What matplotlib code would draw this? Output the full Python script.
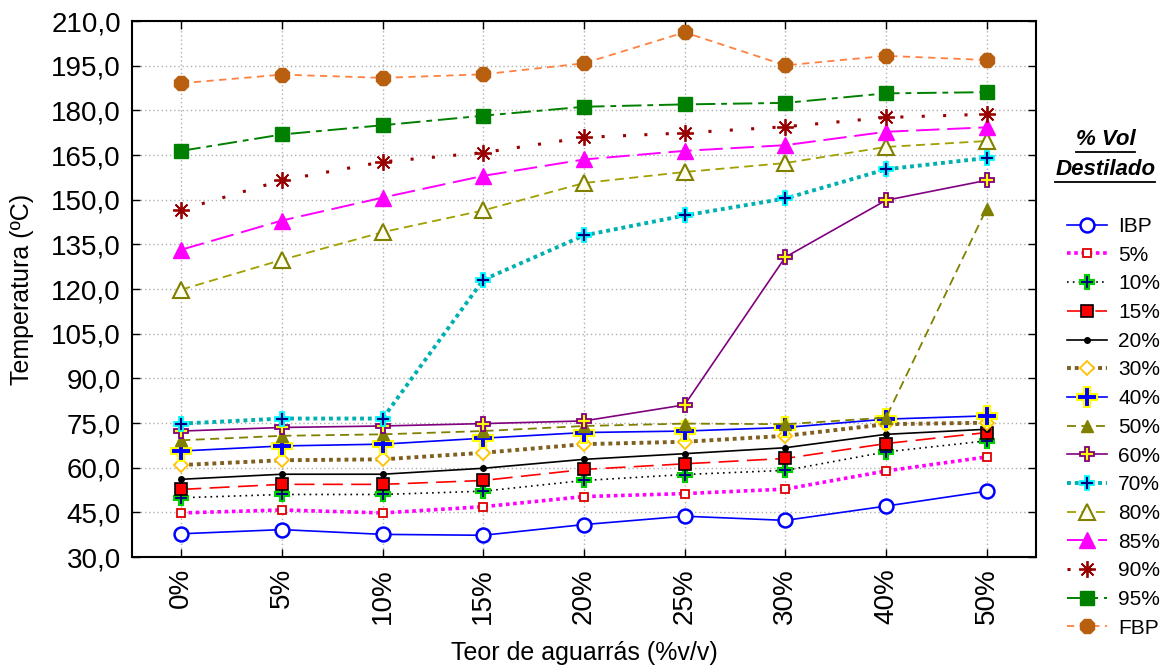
import numpy as np
import matplotlib
matplotlib.use("Agg")
import matplotlib.pyplot as plt
from matplotlib.lines import Line2D
from matplotlib.ticker import FuncFormatter

plt.rcParams['font.family'] = ['Liberation Sans', 'DejaVu Sans']

# turpentine content on the x axis (categorical)
teor = ["0%", "5%", "10%", "15%", "20%", "25%", "30%", "40%", "50%"]

# distillation temperatures (ºC) for each recovered volume
ibp = [37.8, 39.2, 37.6, 37.3, 40.9, 43.7, 42.3, 47.1, 52.1]
v05 = [44.8, 45.8, 44.8, 46.9, 50.3, 51.3, 52.8, 58.9, 63.6]
v10 = [49.9, 51.0, 51.0, 52.1, 55.7, 57.7, 59.1, 65.3, 69.0]
v15 = [52.7, 54.4, 54.4, 55.7, 59.4, 61.3, 63.1, 68.1, 71.8]
v20 = [56.1, 57.8, 57.8, 59.8, 62.8, 64.7, 66.7, 71.2, 72.9]
v30 = [60.9, 62.5, 62.8, 65.0, 67.9, 68.7, 70.7, 74.6, 75.1]
v40 = [65.6, 67.3, 67.9, 69.9, 71.8, 72.3, 73.5, 76.3, 77.4]
v50 = [69.2, 70.7, 71.2, 72.3, 74.0, 74.8, 74.6, 76.8, 147.0]
v60 = [72.3, 73.5, 74.0, 74.8, 75.7, 81.1, 130.7, 149.8, 156.5]
v70 = [74.8, 76.5, 76.5, 123.1, 138.0, 144.7, 150.4, 160.2, 164.0]
v80 = [119.8, 129.8, 139.1, 146.4, 155.6, 159.3, 162.3, 167.7, 169.7]
v85 = [133.2, 143.0, 150.7, 158.0, 163.5, 166.4, 168.3, 172.8, 174.3]
v90 = [146.6, 156.5, 162.7, 165.8, 170.9, 172.4, 174.5, 177.6, 178.7]
v95 = [166.4, 171.9, 175.0, 178.2, 181.2, 182.0, 182.5, 185.7, 186.1]
fbp = [189.1, 192.0, 190.9, 192.1, 195.8, 206.2, 195.1, 198.3, 196.9]

series = [
    ("IBP", ibp, dict(color="#0000ff", ls="-", lw=1.2, marker="o", ms=10,
                      mfc="white", mec="#0000ff", mew=1.8)),
    ("5%", v05, dict(color="#ff00ff", ls=(0, (1, 1)), lw=2.6, marker="s", ms=6,
                     mfc="white", mec="#e00000", mew=1.3)),
    ("10%", v10, dict(color="#000000", ls=(0, (1, 2.5)), lw=1.2, marker="P", ms=10,
                      mfc="#000080", mec="#00d000", mew=1.5)),
    ("15%", v15, dict(color="#ff0000", ls=(0, (12, 5)), lw=1.2, marker="s", ms=8.5,
                      mfc="#ff0000", mec="#000000", mew=1.2)),
    ("20%", v20, dict(color="#000000", ls="-", lw=1.2, marker="o", ms=4,
                      mfc="#000000", mec="#000000")),
    ("30%", v30, dict(color="#806020", ls=(0, (1, 1)), lw=2.8, marker="D", ms=7,
                      mfc="white", mec="#ffc000", mew=1.3)),
    ("40%", v40, dict(color="#0000ff", ls="-", lw=1.2, marker="P", ms=14,
                      mfc="#0000ff", mec="#ffff00", mew=1.5)),
    ("50%", v50, dict(color="#808000", ls=(0, (5, 3)), lw=1.3, marker="^", ms=9,
                      mfc="#808000", mec="#808000")),
    ("60%", v60, dict(color="#800080", ls="-", lw=1.2, marker="P", ms=10,
                      mfc="#ffff00", mec="#800080", mew=1.3)),
    ("70%", v70, dict(color="#00b0b0", ls=(0, (1, 1)), lw=2.8, marker="P", ms=10,
                      mfc="#000080", mec="#00ffff", mew=1.3)),
    ("80%", v80, dict(color="#a0a000", ls=(0, (5, 3)), lw=1.3, marker="^", ms=11,
                      mfc="#fffff0", mec="#808000", mew=1.5)),
    ("85%", v85, dict(color="#ff00ff", ls=(0, (12, 4)), lw=1.4, marker="^", ms=11,
                      mfc="#ff00ff", mec="#ff00ff")),
    ("90%", v90, dict(color="#990000", ls=(0, (1, 6)), lw=2.2, marker=(8, 2, 0), ms=12,
                      mec="#990000", mew=1.3)),
    ("95%", v95, dict(color="#008000", ls=(0, (10, 3, 3, 3)), lw=1.4, marker="s", ms=10,
                      mfc="#008000", mec="#008000")),
    ("FBP", fbp, dict(color="#ff8040", ls=(0, (4, 3)), lw=1.3, marker="8", ms=11,
                      mfc="#b8600f", mec="#b8600f")),
]

fig = plt.figure(figsize=(11.66, 6.69), dpi=100)
ax = fig.add_axes([0.1132, 0.1674, 0.7753, 0.8012])

x = np.arange(len(teor))
for name, vals, st in series:
    ax.plot(x, vals, label=name, **st)

ax.set_xlim(-0.49, len(teor) - 0.51)
ax.set_ylim(30, 210)
ax.set_yticks(np.arange(30, 211, 15))
ax.yaxis.set_major_formatter(FuncFormatter(lambda v, _: f"{v:.1f}".replace(".", ",")))
ax.set_xticks(x)
ax.set_xticklabels(teor, rotation=90)
ax.tick_params(direction="in", length=6, width=1, top=True, right=True,
               labelsize=20, pad=8)
ax.grid(True, color="#b0b0b0", ls=(0, (1, 2)), lw=1)
for s in ax.spines.values():
    s.set_linewidth(1.5)

ax.set_xlabel("Teor de aguarrás (%v/v)", fontsize=18, labelpad=12)
ax.set_ylabel("Temperatura (ºC)", fontsize=18, labelpad=12)

leg = ax.legend(loc="upper left", bbox_to_anchor=(0.908, 0.688),
                bbox_transform=fig.transFigure, frameon=False, fontsize=15,
                handlelength=1.9, handletextpad=0.55, labelspacing=0.465,
                borderaxespad=0)

# legend title, bold italic and underlined
t1 = fig.text(0.948, 0.783, "% Vol", ha="center", va="baseline",
              fontsize=16, fontweight="bold", fontstyle="italic")
t2 = fig.text(0.948, 0.738, "Destilado", ha="center", va="baseline",
              fontsize=16, fontweight="bold", fontstyle="italic")
fig.canvas.draw()
inv = fig.transFigure.inverted()
for t in (t1, t2):
    bb = t.get_window_extent().transformed(inv)
    yb = bb.y0 + 0.004
    fig.add_artist(Line2D([bb.x0, bb.x1], [yb - 0.006, yb - 0.006],
                          color="black", lw=1.3, transform=fig.transFigure))

fig.savefig("out.png", dpi=100)
